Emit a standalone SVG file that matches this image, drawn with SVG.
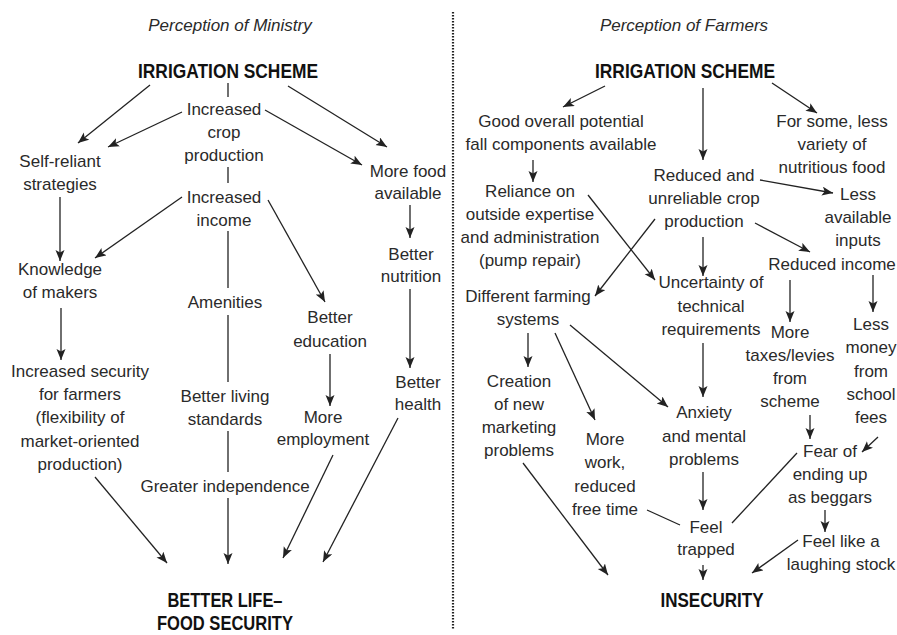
<svg xmlns="http://www.w3.org/2000/svg" width="897" height="635" viewBox="0 0 897 635">
  <style>
    text { font-family: "Liberation Sans", Arial, sans-serif; fill: #2a2a2a; text-anchor: middle; }
    .n { font-size: 17px; }
    .t { font-size: 17px; font-style: italic; }
    .h { font-size: 20.5px; font-weight: bold; fill: #111; }
    .c line, .c path { stroke: #222; stroke-width: 1.3; fill: none; }
    .a { marker-end: url(#arr); }
  </style>
  <defs>
    <marker id="arr" markerUnits="userSpaceOnUse" markerWidth="12" markerHeight="10" refX="11" refY="4.5" orient="auto">
      <path d="M0,0 L11,4.5 L0,9 L2.5,4.5 z" fill="#222"/>
    </marker>
  </defs>

  <rect width="897" height="635" fill="#fff"/>

  <!-- panel divider -->
  <line x1="453" y1="12" x2="453" y2="630" stroke="#222" stroke-width="2.2" stroke-dasharray="1.4 1.6"/>

  <!-- ===== left panel: ministry ===== -->
  <text class="t" x="230" y="31">Perception of Ministry</text>

  <g id="m-scheme"><text class="h" x="228" y="78" textLength="180" lengthAdjust="spacingAndGlyphs">IRRIGATION SCHEME</text></g>
  <g id="m-crop"><text class="n" x="224" y="115">Increased</text><text class="n" x="224" y="138">crop</text><text class="n" x="224" y="161">production</text></g>
  <g id="m-income"><text class="n" x="224" y="203">Increased</text><text class="n" x="224" y="226">income</text></g>
  <g id="m-amenities"><text class="n" x="225" y="308">Amenities</text></g>
  <g id="m-living"><text class="n" x="225" y="402">Better living</text><text class="n" x="225" y="425">standards</text></g>
  <g id="m-independence"><text class="n" x="225" y="492">Greater independence</text></g>
  <g id="m-selfreliant"><text class="n" x="60" y="167">Self-reliant</text><text class="n" x="60" y="190">strategies</text></g>
  <g id="m-knowledge"><text class="n" x="60" y="275">Knowledge</text><text class="n" x="60" y="298">of makers</text></g>
  <g id="m-security"><text class="n" x="80" y="377">Increased security</text><text class="n" x="80" y="400">for farmers</text><text class="n" x="80" y="423">(flexibility of</text><text class="n" x="80" y="447">market-oriented</text><text class="n" x="80" y="470">production)</text></g>
  <g id="m-food"><text class="n" x="408" y="177">More food</text><text class="n" x="408" y="199">available</text></g>
  <g id="m-nutrition"><text class="n" x="411" y="260">Better</text><text class="n" x="411" y="282">nutrition</text></g>
  <g id="m-health"><text class="n" x="418" y="388">Better</text><text class="n" x="418" y="410">health</text></g>
  <g id="m-education"><text class="n" x="330" y="323">Better</text><text class="n" x="330" y="347">education</text></g>
  <g id="m-employment"><text class="n" x="323" y="423">More</text><text class="n" x="323" y="445">employment</text></g>
  <g id="m-better-life"><text class="h" x="225" y="607" textLength="115" lengthAdjust="spacingAndGlyphs">BETTER LIFE–</text><text class="h" x="225" y="630" textLength="136" lengthAdjust="spacingAndGlyphs">FOOD SECURITY</text></g>

  <!-- ===== right panel: farmers ===== -->
  <text class="t" x="684" y="31">Perception of Farmers</text>

  <g id="f-scheme"><text class="h" x="685" y="78" textLength="180" lengthAdjust="spacingAndGlyphs">IRRIGATION SCHEME</text></g>
  <g id="f-potential"><text class="n" x="561" y="127">Good overall potential</text><text class="n" x="561" y="150">fall components available</text></g>
  <g id="f-variety"><text class="n" x="832" y="127">For some, less</text><text class="n" x="832" y="150">variety of</text><text class="n" x="832" y="173">nutritious food</text></g>
  <g id="f-reliance"><text class="n" x="530" y="197">Reliance on</text><text class="n" x="530" y="220">outside expertise</text><text class="n" x="530" y="243">and administration</text><text class="n" x="530" y="266">(pump repair)</text></g>
  <g id="f-reduced-crop"><text class="n" x="704" y="181">Reduced and</text><text class="n" x="704" y="204">unreliable crop</text><text class="n" x="704" y="227">production</text></g>
  <g id="f-inputs"><text class="n" x="858" y="200">Less</text><text class="n" x="858" y="223">available</text><text class="n" x="858" y="246">inputs</text></g>
  <g id="f-reduced-income"><text class="n" x="832" y="270">Reduced income</text></g>
  <g id="f-farming"><text class="n" x="528" y="302">Different farming</text><text class="n" x="528" y="325">systems</text></g>
  <g id="f-uncertainty"><text class="n" x="711" y="288">Uncertainty of</text><text class="n" x="711" y="312">technical</text><text class="n" x="711" y="335">requirements</text></g>
  <g id="f-taxes"><text class="n" x="790" y="338">More</text><text class="n" x="790" y="361">taxes/levies</text><text class="n" x="790" y="384">from</text><text class="n" x="790" y="407">scheme</text></g>
  <g id="f-money"><text class="n" x="871" y="330">Less</text><text class="n" x="871" y="353">money</text><text class="n" x="871" y="377">from</text><text class="n" x="871" y="400">school</text><text class="n" x="871" y="423">fees</text></g>
  <g id="f-marketing"><text class="n" x="519" y="387">Creation</text><text class="n" x="519" y="410">of new</text><text class="n" x="519" y="433">marketing</text><text class="n" x="519" y="456">problems</text></g>
  <g id="f-work"><text class="n" x="605" y="445">More</text><text class="n" x="605" y="468">work,</text><text class="n" x="605" y="492">reduced</text><text class="n" x="605" y="515">free time</text></g>
  <g id="f-anxiety"><text class="n" x="704" y="418">Anxiety</text><text class="n" x="704" y="442">and mental</text><text class="n" x="704" y="465">problems</text></g>
  <g id="f-fear"><text class="n" x="830" y="457">Fear of</text><text class="n" x="830" y="480">ending up</text><text class="n" x="830" y="503">as beggars</text></g>
  <g id="f-trapped"><text class="n" x="706" y="533">Feel</text><text class="n" x="706" y="555">trapped</text></g>
  <g id="f-laughing"><text class="n" x="841" y="547">Feel like a</text><text class="n" x="841" y="570">laughing stock</text></g>
  <g id="f-insecurity"><text class="h" x="712" y="607" textLength="103" lengthAdjust="spacingAndGlyphs">INSECURITY</text></g>

  <!-- connectors -->
  <g id="connectors" class="c">
    <!-- ministry -->
    <line x1="228" y1="83" x2="228" y2="97"/>
    <line x1="228" y1="167" x2="228" y2="183"/>
    <line x1="228" y1="231" x2="228" y2="288"/>
    <line x1="228" y1="315" x2="228" y2="382"/>
    <line x1="228" y1="431" x2="228" y2="472"/>
    <line class="a" x1="228" y1="498" x2="228" y2="564"/>
    <line class="a" x1="150" y1="85" x2="78" y2="143"/>
    <line class="a" x1="182" y1="112" x2="108" y2="147"/>
    <line class="a" x1="265" y1="110" x2="362" y2="165"/>
    <line class="a" x1="288" y1="86" x2="387" y2="147"/>
    <line class="a" x1="410" y1="205" x2="410" y2="238"/>
    <line class="a" x1="410" y1="289" x2="410" y2="368"/>
    <line class="a" x1="398" y1="418" x2="323" y2="562"/>
    <line class="a" x1="182" y1="197" x2="95" y2="258"/>
    <line class="a" x1="60" y1="197" x2="60" y2="261"/>
    <line class="a" x1="61" y1="308" x2="61" y2="360"/>
    <line class="a" x1="95" y1="477" x2="167" y2="563"/>
    <line class="a" x1="268" y1="200" x2="325" y2="302"/>
    <line class="a" x1="330" y1="354" x2="330" y2="406"/>
    <line class="a" x1="333" y1="455" x2="283" y2="558"/>

    <!-- farmers -->
    <line class="a" x1="605" y1="86" x2="563" y2="107"/>
    <line class="a" x1="703" y1="88" x2="703" y2="160"/>
    <line class="a" x1="772" y1="83" x2="817" y2="113"/>
    <line class="a" x1="533" y1="160" x2="533" y2="182"/>
    <line class="a" x1="588" y1="195" x2="655" y2="280"/>
    <line class="a" x1="760" y1="180" x2="833" y2="193"/>
    <line class="a" x1="755" y1="223" x2="810" y2="252"/>
    <line class="a" x1="655" y1="219" x2="595" y2="296"/>
    <line class="a" x1="703" y1="237" x2="703" y2="276"/>
    <line class="a" x1="703" y1="343" x2="703" y2="397"/>
    <line class="a" x1="703" y1="472" x2="703" y2="510"/>
    <line class="a" x1="703" y1="565" x2="703" y2="580"/>
    <line class="a" x1="528" y1="333" x2="528" y2="367"/>
    <line class="a" x1="523" y1="463" x2="608" y2="575"/>
    <line class="a" x1="555" y1="333" x2="595" y2="420"/>
    <line x1="647" y1="510" x2="680" y2="525"/>
    <line class="a" x1="570" y1="325" x2="668" y2="407"/>
    <line x1="797" y1="453" x2="732" y2="523"/>
    <line class="a" x1="790" y1="280" x2="790" y2="322"/>
    <line class="a" x1="810" y1="415" x2="810" y2="439"/>
    <line class="a" x1="873" y1="275" x2="873" y2="312"/>
    <line class="a" x1="878" y1="437" x2="862" y2="452"/>
    <line class="a" x1="825" y1="510" x2="825" y2="532"/>
    <line class="a" x1="798" y1="540" x2="752" y2="573"/>
  </g>
</svg>
